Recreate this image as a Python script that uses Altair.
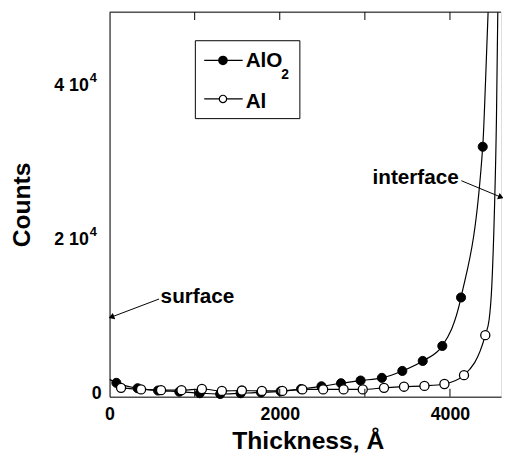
import altair as alt
import pandas as pd

# ---- data ----
alo2_x = [80, 330, 570, 820, 1060, 1300, 1540, 1780, 2010, 2250, 2490, 2720, 2950, 3200, 3440, 3680, 3910, 4130, 4385]
alo2_y = [1800, 1100, 800, 650, 450, 350, 450, 550, 700, 1000, 1350, 1750, 2100, 2450, 3350, 4650, 6600, 12900, 32500]
al_x = [135, 370, 605, 845, 1085, 1320, 1555, 1790, 2030, 2265, 2510, 2750, 2975, 3225, 3460, 3700, 3935, 4165, 4415]
al_y = [1150, 950, 850, 850, 1000, 750, 800, 750, 750, 950, 950, 950, 950, 1150, 1300, 1400, 1650, 2800, 8000]

# fitted-curve parts drawn as line only (outside the markers)
alo2_head_x = [0]
alo2_head_y = [2250]
alo2_tail_x = [4418, 4448, 4470]
alo2_tail_y = [41000, 50000, 57000]
al_tail_x = [4460, 4492, 4522, 4546, 4562, 4570]
al_tail_y = [10000, 14500, 24000, 36000, 50000, 60000]

x_label_vals = [0, 2000, 4000]
x_tick_vals = [1000, 2000, 3000, 4000]
y_label_vals = [20000, 40000]
y_label_main = ["2 10", "4 10"]
y_label_sup = ["4", "4"]

ann_text = ["surface", "interface"]
ann_text_x = [600, 3090]
ann_text_y = [12950, 28460]
ann_tail_x = [582, 4134]
ann_tail_y = [12700, 28080]
ann_tip_x = [21, 4600]
ann_tip_y = [10350, 25940]

FONT = "Arial, Liberation Sans, sans-serif"
W, H = 397, 390
XMAX, YMAX = 4600, 50000

xs = alt.Scale(domain=[0, XMAX], nice=False, zero=False)
ys = alt.Scale(domain=[0, YMAX], nice=False, zero=False)

markers = pd.DataFrame({
    "x": alo2_x + al_x,
    "y": alo2_y + al_y,
    "series": ["AlO2"] * len(alo2_x) + ["Al"] * len(al_x),
})
curves = pd.DataFrame({
    "x": alo2_head_x + alo2_x + alo2_tail_x + al_x + al_tail_x,
    "y": alo2_head_y + alo2_y + alo2_tail_y + al_y + al_tail_y,
    "series": ["AlO2"] * (len(alo2_head_x) + len(alo2_x) + len(alo2_tail_x))
              + ["Al"] * (len(al_x) + len(al_tail_x)),
})

x_axis = alt.Axis(
    values=x_label_vals, format="d", ticks=False, grid=False, labelFlush=False,
    labelFontSize=18, labelFontWeight="bold", labelFont=FONT, labelColor="black",
    labelPadding=9, domainColor="black", domainWidth=1,
    title="Thickness, Å", titleFont=FONT, titleFontSize=25, titleFontWeight="bold",
    titleColor="black", titleX=201, titleY=53, titleBaseline="alphabetic", titleAlign="center",
)
y_axis = alt.Axis(
    labels=False, ticks=False, grid=False, domainColor="black", domainWidth=1,
    title="Counts", titleFont=FONT, titleFontSize=25, titleFontWeight="bold",
    titleColor="black", titleAngle=270, titleX=-81, titleY=195,
    titleBaseline="alphabetic", titleAlign="center",
)

base_x = alt.X("x:Q", scale=xs, axis=x_axis)
base_y = alt.Y("y:Q", scale=ys, axis=y_axis)

lines = alt.Chart(curves).mark_line(
    color="black", strokeWidth=1.2, interpolate="monotone", clip=True
).encode(x=base_x, y=base_y, detail="series:N")

filled_pts = alt.Chart(markers).transform_filter(alt.datum.series == "AlO2").mark_point(
    shape="circle", filled=True, fill="black", stroke="black", strokeWidth=1, size=85, opacity=1
).encode(x=alt.X("x:Q", scale=xs), y=alt.Y("y:Q", scale=ys))

open_pts = alt.Chart(markers).transform_filter(alt.datum.series == "Al").mark_point(
    shape="circle", filled=True, fill="white", stroke="black", strokeWidth=1.3, size=85, opacity=1
).encode(x=alt.X("x:Q", scale=xs), y=alt.Y("y:Q", scale=ys))

# inward ticks on bottom and top
ticks_df = pd.DataFrame({"x": x_tick_vals})
bottom_ticks = alt.Chart(ticks_df).mark_rule(color="black", strokeWidth=1).encode(
    x=alt.X("x:Q", scale=xs), y=alt.value(H), y2=alt.value(H - 8))
top_ticks = alt.Chart(ticks_df).mark_rule(color="black", strokeWidth=1).encode(
    x=alt.X("x:Q", scale=xs), y=alt.value(0), y2=alt.value(8))
top_line = alt.Chart(ticks_df.head(1)).mark_rule(color="black", strokeWidth=1).encode(
    x=alt.value(0), x2=alt.value(W), y=alt.value(0))

# y tick labels with superscript exponent
ylab = pd.DataFrame({"y": y_label_vals, "main": y_label_main, "sup": y_label_sup})
ylab_main = alt.Chart(ylab).mark_text(
    align="right", baseline="middle", font=FONT, fontSize=18, fontWeight="bold", color="black", dy=-3
).encode(y=alt.Y("y:Q", scale=ys), x=alt.value(-21), text="main:N")
ylab_sup = alt.Chart(ylab).mark_text(
    align="left", baseline="middle", font=FONT, fontSize=13, fontWeight="bold", color="black", dy=-11
).encode(y=alt.Y("y:Q", scale=ys), x=alt.value(-20), text="sup:N")
ylab_zero = alt.Chart(pd.DataFrame({"y": [0], "t": ["0"]})).mark_text(
    align="right", baseline="middle", font=FONT, fontSize=18, fontWeight="bold", color="black", dy=-3
).encode(y=alt.Y("y:Q", scale=ys), x=alt.value(-8), text="t:N")

# annotations
ann = pd.DataFrame({
    "t": ann_text, "tx": ann_text_x, "ty": ann_text_y,
    "x1": ann_tail_x, "y1": ann_tail_y, "x2": ann_tip_x, "y2": ann_tip_y,
})
ann_txt = alt.Chart(ann).mark_text(
    align="left", baseline="middle", font=FONT, fontSize=21, fontWeight="bold", color="black"
).encode(x=alt.X("tx:Q", scale=xs), y=alt.Y("ty:Q", scale=ys), text="t:N")
ann_line = alt.Chart(ann).mark_rule(color="black", strokeWidth=1).encode(
    x=alt.X("x1:Q", scale=xs), y=alt.Y("y1:Q", scale=ys), x2="x2:Q", y2="y2:Q")
head_surface = alt.Chart(ann.iloc[[0]]).mark_point(
    shape="triangle-right", filled=True, color="black", size=45, opacity=1, angle=159, dx=2, dy=-1
).encode(x=alt.X("x2:Q", scale=xs), y=alt.Y("y2:Q", scale=ys))
head_interface = alt.Chart(ann.iloc[[1]]).mark_point(
    shape="triangle-right", filled=True, color="black", size=45, opacity=1, angle=22, dx=-3, dy=-1
).encode(x=alt.X("x2:Q", scale=xs), y=alt.Y("y2:Q", scale=ys))

# legend (drawn in pixel space inside the plot)
one = pd.DataFrame({"a": [0]})
leg_box = alt.Chart(one).mark_rect(fill="white", stroke="black", strokeWidth=1).encode(
    x=alt.value(87), x2=alt.value(193), y=alt.value(29), y2=alt.value(108))
leg_l1 = alt.Chart(one).mark_rule(color="black", strokeWidth=1.2).encode(
    x=alt.value(96), x2=alt.value(135), y=alt.value(49))
leg_l2 = alt.Chart(one).mark_rule(color="black", strokeWidth=1.2).encode(
    x=alt.value(96), x2=alt.value(135), y=alt.value(88))
leg_p1 = alt.Chart(one).mark_point(shape="circle", filled=True, fill="black", stroke="black", size=60, opacity=1).encode(
    x=alt.value(115), y=alt.value(49))
leg_p2 = alt.Chart(one).mark_point(shape="circle", filled=True, fill="white", stroke="black", strokeWidth=1.2, size=55, opacity=1).encode(
    x=alt.value(115), y=alt.value(88))
leg_t1 = alt.Chart(one).mark_text(align="left", baseline="middle", font=FONT, fontSize=21, fontWeight="bold", color="black", text="AlO").encode(
    x=alt.value(138), y=alt.value(50))
leg_t1s = alt.Chart(one).mark_text(align="left", baseline="middle", font=FONT, fontSize=14, fontWeight="bold", color="black", text="2").encode(
    x=alt.value(174), y=alt.value(64))
leg_t2 = alt.Chart(one).mark_text(align="left", baseline="middle", font=FONT, fontSize=21, fontWeight="bold", color="black", text="Al").encode(
    x=alt.value(138), y=alt.value(91))

chart = alt.layer(
    lines, filled_pts, open_pts, bottom_ticks, top_ticks, top_line,
    ylab_main, ylab_sup, ylab_zero, ann_line, head_surface, head_interface, ann_txt,
    leg_box, leg_l1, leg_l2, leg_p1, leg_p2, leg_t1, leg_t1s, leg_t2,
).properties(
    width=W, height=H,
    autosize=alt.AutoSizeParams(type="none"),
    padding={"left": 103, "top": 1, "right": 2, "bottom": 60},
).configure_view(stroke=None).configure(background="white")

chart.save("out.html", embed_options={"renderer": "svg", "actions": False})
